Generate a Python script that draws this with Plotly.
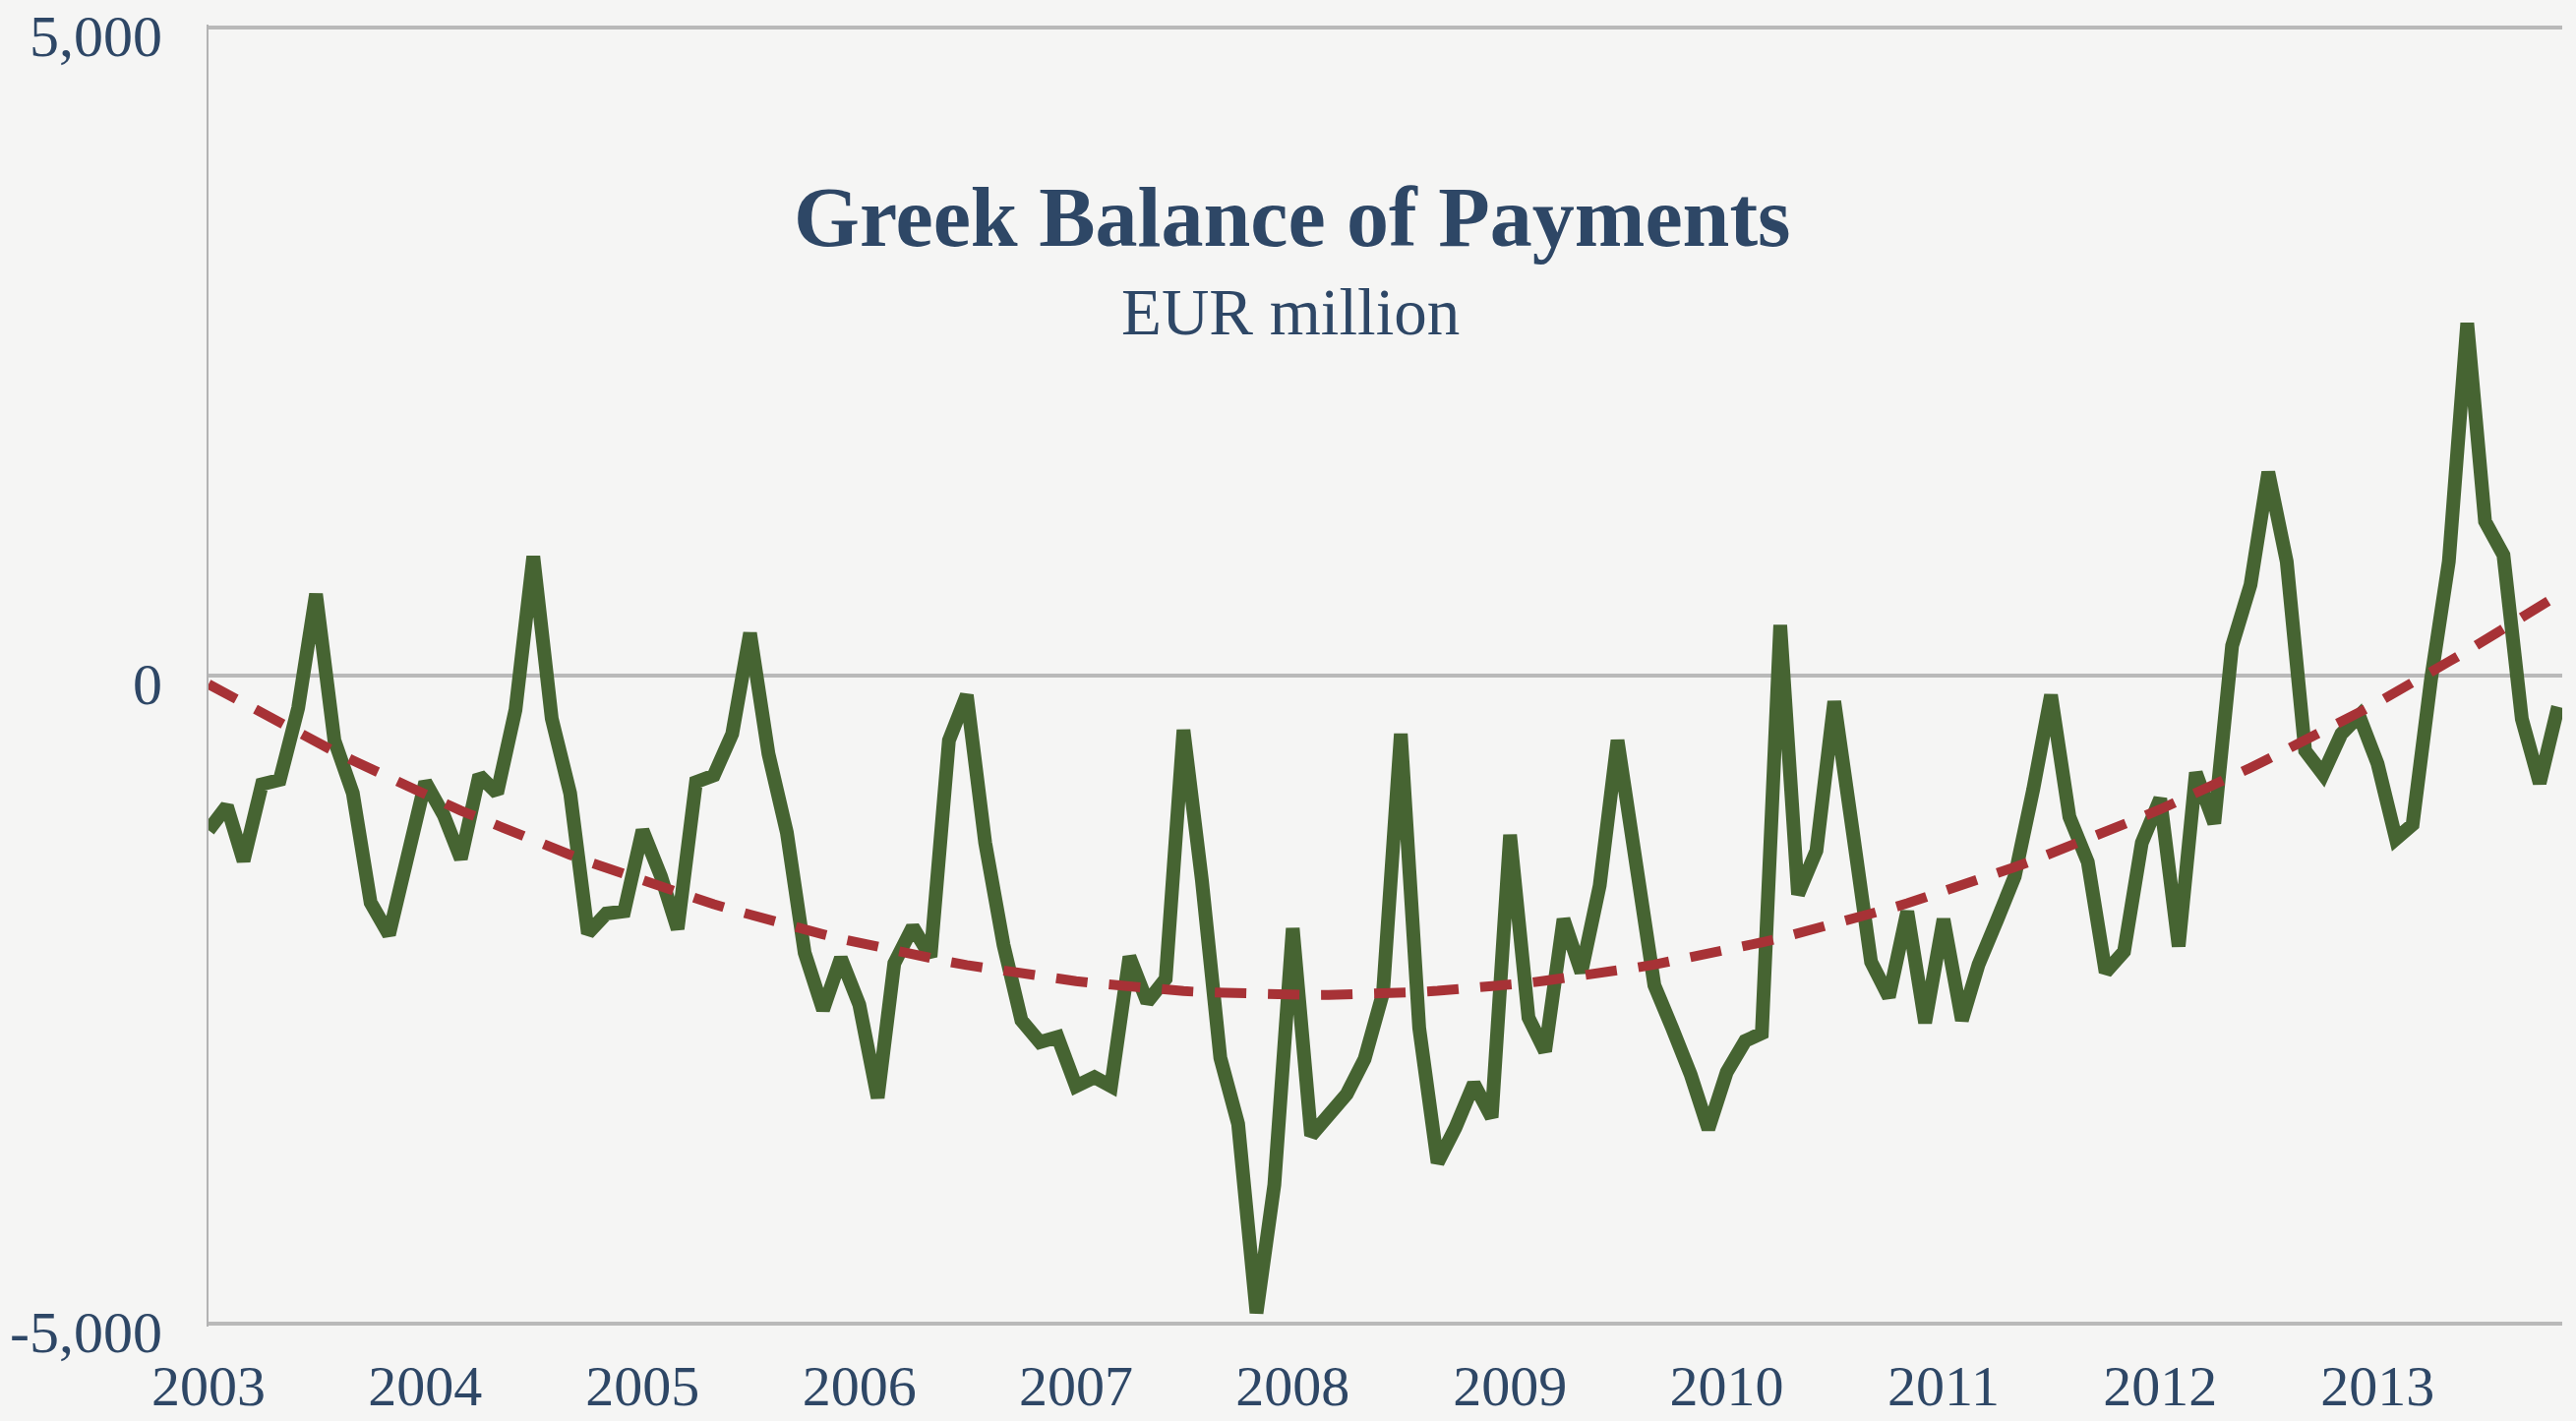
import numpy as np
import pandas as pd
import plotly.graph_objects as go

# Monthly Greek balance of payments, EUR million, Jan 2003 - Nov 2013
start_month = "2003-01-01"
balance = [
    -1194, -1008, -1430, -839, -805, -250, 630, -500, -907, -1752, -2000, -1414,   # 2003
    -822, -1076, -1414, -771, -907, -264, 920, -331, -907, -1989, -1837, -1820,    # 2004
    -1194, -1549, -1955, -822, -771, -450, 328, -602, -1211, -2140, -2580, -2180,  # 2005
    -2540, -3260, -2220, -1940, -2170, -500, -150, -1290, -2080, -2660, -2830, -2790,  # 2006
    -3170, -3100, -3170, -2170, -2520, -2340, -420, -1580, -2950, -3460, -4920, -3930,  # 2007
    -1950, -3550, -3400, -3230, -2960, -2450, -450, -2720, -3760, -3490, -3150, -3410,  # 2008
    -1230, -2640, -2900, -1880, -2290, -1620, -500, -1420, -2390, -2720, -3077, -3500,  # 2009
    -3060, -2820, -2760, 390, -1690, -1350, -200, -1200, -2210, -2480, -1820, -2680,   # 2010
    -1880, -2660, -2230, -1890, -1550, -880, -150, -1090, -1440, -2290, -2130, -1290,  # 2011
    -950, -2090, -750, -1140, 230, 700, 1570, 880, -580, -760, -450, -310,            # 2012
    -680, -1260, -1150, -30, 880, 2720, 1190, 930, -335, -830, -240,                  # 2013
]
year_labels = ["2003", "2004", "2005", "2006", "2007", "2008", "2009",
               "2010", "2011", "2012", "2013"]
y_ticks = [-5000, 0, 5000]
y_tick_labels = ["-5,000", "0", "5,000"]
title_text = "Greek Balance of Payments"
subtitle_text = "EUR million"

dates = pd.date_range(start_month, periods=len(balance), freq="MS")
idx = np.arange(len(balance))
coef = np.polyfit(idx, balance, 2)
trend = np.polyval(coef, idx)

TEXT = "#2e4766"
FONT = "Liberation Serif, Times New Roman, serif"
BG = "#f5f5f4"

fig = go.Figure()
fig.add_trace(go.Scatter(
    x=dates, y=balance, mode="lines",
    line=dict(color="#466432", width=14),
    showlegend=False, hoverinfo="skip",
))
fig.add_trace(go.Scatter(
    x=dates, y=trend, mode="lines",
    line=dict(color="#a73236", width=10, dash="32px,22px"),
    showlegend=False, hoverinfo="skip",
))

tickvals = [pd.Timestamp(f"{y}-01-01") for y in year_labels]

fig.update_layout(
    width=2619, height=1445,
    paper_bgcolor=BG, plot_bgcolor=BG,
    margin=dict(l=212, r=14, t=25, b=96),
    font=dict(family=FONT, color=TEXT, size=58),
    xaxis=dict(
        type="date", automargin=False,
        range=[pd.Timestamp("2003-01-01"), pd.Timestamp("2013-11-08")],
        tickvals=tickvals, ticktext=year_labels,
        showgrid=False, zeroline=False, showline=False,
        ticks="", ticklabelstandoff=21, ticklabeloverflow="allow",
        tickfont=dict(family=FONT, color=TEXT, size=58),
    ),
    yaxis=dict(
        range=[-5025, 5025], automargin=False,
        tickvals=y_ticks, ticktext=y_tick_labels,
        showgrid=True, gridcolor="#b9b9b9", gridwidth=4,
        zeroline=True, zerolinecolor="#b9b9b9", zerolinewidth=4,
        showline=True, linecolor="#b3b3b3", linewidth=2,
        ticks="", ticklabelstandoff=33, ticklabeloverflow="allow",
        ticklabelshift=8,
        tickfont=dict(family=FONT, color=TEXT, size=60),
    ),
    annotations=[
        dict(text=f"<b>{title_text}</b>", xref="paper", yref="paper",
             x=(1314 - 212) / (2605 - 212), y=(1346 - 223) / (1346 - 28),
             xanchor="center", yanchor="middle", showarrow=False,
             font=dict(family=FONT, color=TEXT, size=86)),
        dict(text=subtitle_text, xref="paper", yref="paper",
             x=(1312 - 212) / (2605 - 212), y=(1346 - 319) / (1346 - 28),
             xanchor="center", yanchor="middle", showarrow=False,
             font=dict(family=FONT, color=TEXT, size=67)),
    ],
)

fig.write_html("out.html")
